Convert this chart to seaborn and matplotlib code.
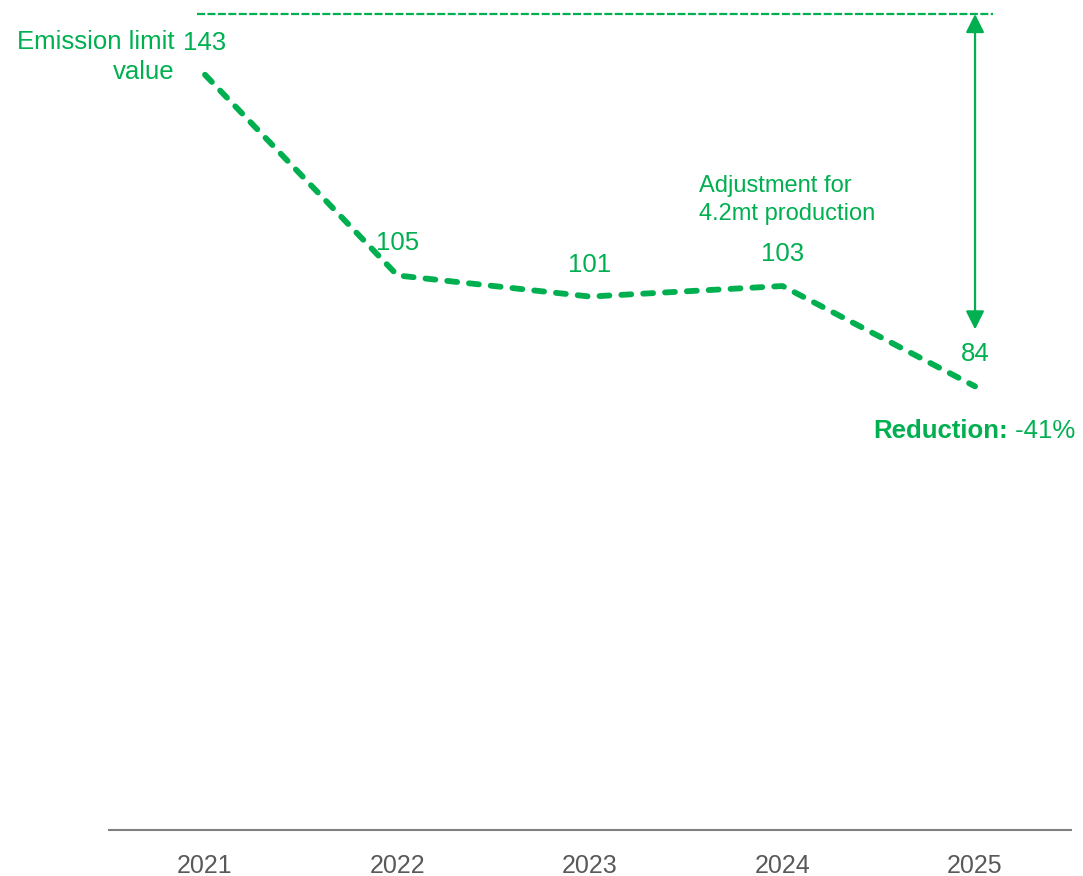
import numpy as np
import pandas as pd
import matplotlib.pyplot as plt
import seaborn as sns

# 数据
years = [2021, 2022, 2023, 2024, 2025]
values = [143, 105, 101, 103, 84]
ref_top = 154.5          # 顶部虚线（排放上限参考线）
reduction_text = "-41%"

green = "#00B050"
grey_txt = "#595959"

sns.set_style("white")
plt.rcParams['font.family'] = ['Liberation Sans', 'DejaVu Sans']

df = pd.DataFrame({'year': years, 'value': values})

fig = plt.figure(figsize=(10.83, 8.76), dpi=100)
ax = fig.add_axes([0.1004, 0.0525, 0.8888, 0.9315])

sns.lineplot(data=df, x='year', y='value', ax=ax, color=green,
             linewidth=4.2, linestyle=(0, (1.7, 2.05)), dash_capstyle='round')

ax.set_xlim(2020.5, 2025.5)
ax.set_ylim(0, ref_top)
ax.set_xticks(years)
ax.set_xticklabels([str(y) for y in years], fontsize=18, color=grey_txt)
ax.set_yticks([])
ax.set_xlabel('')
ax.set_ylabel('')
ax.tick_params(axis='x', length=0, pad=17)
for s in ['top', 'right', 'left']:
    ax.spines[s].set_visible(False)
ax.spines['bottom'].set_color('#808080')
ax.spines['bottom'].set_linewidth(1.5)

# 顶部参考虚线
ax.axhline(ref_top, xmin=0.0917, xmax=0.9187, color=green, linewidth=1.6,
           linestyle=(0, (3.6, 1.1)), clip_on=False)

# 数值标签
for x, v in zip(years, values):
    ax.annotate(str(v), xy=(x, v), xytext=(0, 32), textcoords='offset pixels',
                ha='center', va='center', fontsize=18.5, color=green)

# 双向箭头
ax.annotate('', xy=(years[-1], ref_top), xytext=(years[-1], values[-1]),
            arrowprops=dict(arrowstyle='<|-|>,head_length=0.8,head_width=0.4',
                            mutation_scale=14, color=green, lw=1.6,
                            shrinkA=41, shrinkB=0),
            annotation_clip=False)

# 文字注释
ax.annotate('Emission limit\nvalue', xy=(years[0], values[0]), xytext=(-30, 18),
            textcoords='offset pixels', ha='right', va='center',
            multialignment='right', linespacing=1.3, fontsize=18.5, color=green)
ax.annotate('Adjustment for\n4.2mt production', xy=(years[3], values[3]),
            xytext=(-84, 86), textcoords='offset pixels', ha='left', va='center',
            linespacing=1.35, fontsize=17, color=green)
t = ax.annotate('Reduction:', xy=(years[-1], values[-1]), xytext=(-102, -45),
                textcoords='offset pixels', ha='left', va='center',
                fontsize=18.5, fontweight='bold', color=green)
ax.annotate(' ' + reduction_text, xy=(1, 0.5), xycoords=t, ha='left', va='center',
            fontsize=18.5, color=green)

fig.savefig('out.png', dpi=100)
